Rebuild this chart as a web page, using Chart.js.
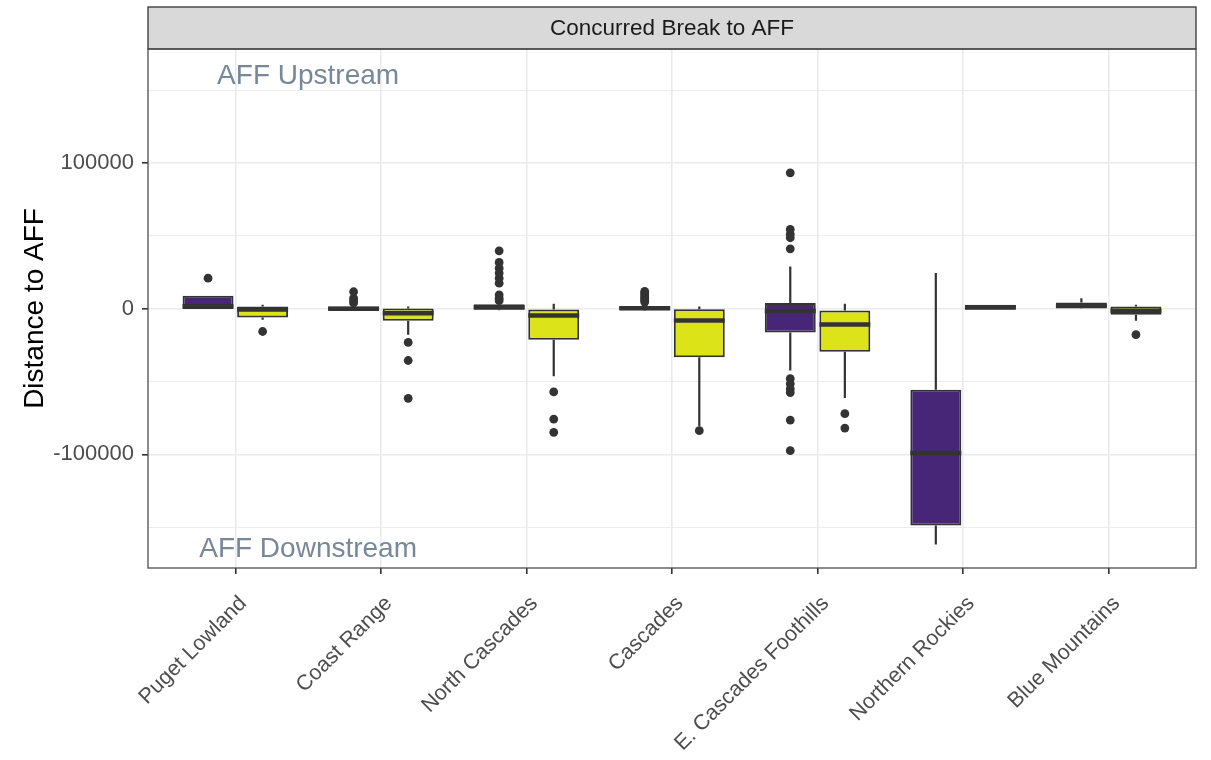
<!DOCTYPE html>
<html>
<head>
<meta charset="utf-8">
<script src="https://cdn.jsdelivr.net/npm/chart.js@4"></script>
<style>
  html, body { margin: 0; padding: 0; background: #ffffff; }
  #wrap { width: 1211px; height: 760px; position: relative; }
</style>
</head>
<body>
<div id="wrap"><canvas id="chart"></canvas></div>
<script>
// Ecoregions along the x axis
const regions = ['Puget Lowland', 'Coast Range', 'North Cascades', 'Cascades',
                 'E. Cascades Foothills', 'Northern Rockies', 'Blue Mountains'];

// First group (purple boxes): whisker ends, quartiles, median, outliers
const aLow    = [-200, -1200, -1000, -1300, -42300, -161900, -200];
const aQ1     = [-200, -800, -700, -1000, -16200, -148900, 0];
const aMedian = [1700, 0, 1000, 300, -1500, -99000, 2000];
const aQ3     = [8900, 1500, 3200, 1800, 3900, -55600, 4300];
const aHigh   = [8900, 2000, 4500, 2800, 29000, 24500, 7300];
const aOutliers = [
  [21000],
  [11700, 7300, 5500, 4000],
  [39800, 31800, 27900, 24500, 21000, 17600, 9600, 7300, 5600],
  [12000, 10800, 9500, 8300, 7000, 5800, 4600],
  [93400, 54500, 51200, 48800, 41200, -48000, -51500, -55000, -57500, -76400, -97400],
  [],
  []
];

// Second group (yellow boxes)
const bLow    = [-7500, -17800, -46400, -80700, -61300, -700, -8200];
const bQ1     = [-6000, -8200, -21300, -33200, -29500, -700, -4100];
const bMedian = [-500, -3000, -4600, -8000, -10800, 1000, -1400];
const bQ3     = [1600, 200, -500, -300, -1100, 2700, 1600];
const bHigh   = [2700, 1600, 3400, 1600, 3400, 2700, 2700];
const bOutliers = [
  [-15600],
  [-23100, -35500, -61500],
  [-57100, -75700, -84800],
  [-83700],
  [-72000, -81900],
  [],
  [-17800]
];

// Y axis tick positions and the ones that carry a label
const yTicks = [-150000, -100000, -50000, 0, 50000, 100000, 150000];
const yLabelled = [-100000, 0, 100000];

const stripTitle = 'Concurred Break to AFF';
const notes = [
  { text: 'AFF Upstream',   x: 0.5, y: 160000 },
  { text: 'AFF Downstream', x: 0.5, y: -165000 }
];

const PURPLE = '#482677';
const YELLOW = '#DCE319';
const INK = '#333333';
const DODGE = 0.1875;   // offset of each box from its category centre
const BOX_W = 0.35;     // box width in category units

function boxes(q1, q3, shift) {
  return regions.map((_, i) => ({ x: i + shift, y: [q1[i], q3[i]] }));
}
function whiskers(low, q1, q3, high, shift) {
  const pts = [];
  regions.forEach((_, i) => {
    const x = i + shift;
    pts.push({ x, y: q3[i] }, { x, y: high[i] }, { x, y: null });
    pts.push({ x, y: q1[i] }, { x, y: low[i] }, { x, y: null });
  });
  return pts;
}
function medians(med, shift) {
  const pts = [];
  regions.forEach((_, i) => {
    const x = i + shift;
    pts.push({ x: x - BOX_W / 2, y: med[i] }, { x: x + BOX_W / 2, y: med[i] }, { x, y: null });
  });
  return pts;
}
function outliers(list, shift) {
  const pts = [];
  list.forEach((vals, i) => vals.forEach(v => pts.push({ x: i + shift, y: v })));
  return pts;
}

const lineStyle = { type: 'line', pointRadius: 0, tension: 0, spanGaps: false,
                    borderColor: INK, fill: false, borderCapStyle: 'butt' };

// Facet strip, panel border and in-panel notes
const decor = {
  id: 'decor',
  afterDraw(chart) {
    const { ctx, chartArea: ca, scales } = chart;
    ctx.save();
    // strip
    const sTop = 7;
    ctx.fillStyle = '#d9d9d9';
    ctx.fillRect(ca.left, sTop, ca.right - ca.left, ca.top - sTop);
    ctx.strokeStyle = INK;
    ctx.lineWidth = 1.3;
    ctx.strokeRect(ca.left, sTop, ca.right - ca.left, ca.top - sTop);
    ctx.fillStyle = '#1a1a1a';
    ctx.font = '22.5px "Liberation Sans", Arial, sans-serif';
    ctx.textAlign = 'center';
    ctx.textBaseline = 'middle';
    ctx.fillText(stripTitle, (ca.left + ca.right) / 2, (sTop + ca.top) / 2 + 1);
    // panel border
    ctx.strokeStyle = '#4d4d4d';
    ctx.lineWidth = 1.3;
    ctx.strokeRect(ca.left, ca.top, ca.right - ca.left, ca.bottom - ca.top);
    // notes
    ctx.fillStyle = '#778899';
    ctx.font = '28px "Liberation Sans", Arial, sans-serif';
    notes.forEach(n => {
      ctx.fillText(n.text, scales.x.getPixelForValue(n.x), scales.y.getPixelForValue(n.y));
    });
    ctx.restore();
  }
};

new Chart(document.getElementById('chart'), {
  type: 'bar',
  data: {
    datasets: [
      { label: 'A outliers', type: 'scatter', data: outliers(aOutliers, -DODGE),
        pointRadius: 4.4, pointBackgroundColor: INK, pointBorderWidth: 0, order: 0 },
      { label: 'B outliers', type: 'scatter', data: outliers(bOutliers, DODGE),
        pointRadius: 4.4, pointBackgroundColor: INK, pointBorderWidth: 0, order: 0 },
      Object.assign({ label: 'A median', data: medians(aMedian, -DODGE), borderWidth: 4.5, order: 1 }, lineStyle),
      Object.assign({ label: 'B median', data: medians(bMedian, DODGE), borderWidth: 4.5, order: 1 }, lineStyle),
      { label: 'A', data: boxes(aQ1, aQ3, -DODGE), backgroundColor: PURPLE,
        borderColor: INK, borderWidth: 2, borderSkipped: false, order: 2 },
      { label: 'B', data: boxes(bQ1, bQ3, DODGE), backgroundColor: YELLOW,
        borderColor: INK, borderWidth: 2, borderSkipped: false, order: 2 },
      Object.assign({ label: 'A whisker', data: whiskers(aLow, aQ1, aQ3, aHigh, -DODGE), borderWidth: 2.2, order: 3 }, lineStyle),
      Object.assign({ label: 'B whisker', data: whiskers(bLow, bQ1, bQ3, bHigh, DODGE), borderWidth: 2.2, order: 3 }, lineStyle)
    ]
  },
  options: {
    responsive: true,
    maintainAspectRatio: false,
    animation: false,
    events: [],
    grouped: false,
    categoryPercentage: 1,
    barPercentage: BOX_W / (2 * DODGE),
    layout: { padding: { top: 49, right: 15, bottom: 0, left: 0 } },
    plugins: { legend: { display: false }, tooltip: { enabled: false } },
    scales: {
      x: {
        type: 'linear',
        min: -0.6, max: 6.6,
        offset: false,
        afterBuildTicks: s => { s.ticks = regions.map((_, i) => ({ value: i })); },
        afterFit: s => { s.height = 192; },
        border: { display: false },
        grid: { offset: false, color: '#ebebeb', lineWidth: 1.6, tickLength: 6,
                tickColor: INK, tickWidth: 1.6 },
        ticks: {
          autoSkip: false, minRotation: 45, maxRotation: 45,
          color: '#4d4d4d', padding: 17, labelOffset: 8,
          font: { family: '"Liberation Sans", Arial, sans-serif', size: 21.5 },
          callback: v => regions[v] ?? ''
        }
      },
      y: {
        min: -178000, max: 178400,
        afterBuildTicks: s => { s.ticks = yTicks.map(v => ({ value: v })); },
        afterFit: s => { s.width = 148; },
        border: { display: false },
        grid: {
          color: '#ebebeb',
          lineWidth: c => (c.tick && yLabelled.includes(c.tick.value)) ? 1.6 : 0.9,
          tickLength: 6, tickWidth: 1.6,
          tickColor: c => (c.tick && yLabelled.includes(c.tick.value)) ? INK : 'rgba(0,0,0,0)'
        },
        ticks: {
          color: '#4d4d4d', padding: 8,
          font: { family: '"Liberation Sans", Arial, sans-serif', size: 22 },
          callback: v => yLabelled.includes(v) ? String(v) : ''
        },
        title: {
          display: true, text: 'Distance to AFF', color: '#000000',
          padding: { top: 18, bottom: 0 },
          font: { family: '"Liberation Sans", Arial, sans-serif', size: 28 }
        }
      }
    }
  },
  plugins: [decor]
});
</script>
</body>
</html>
